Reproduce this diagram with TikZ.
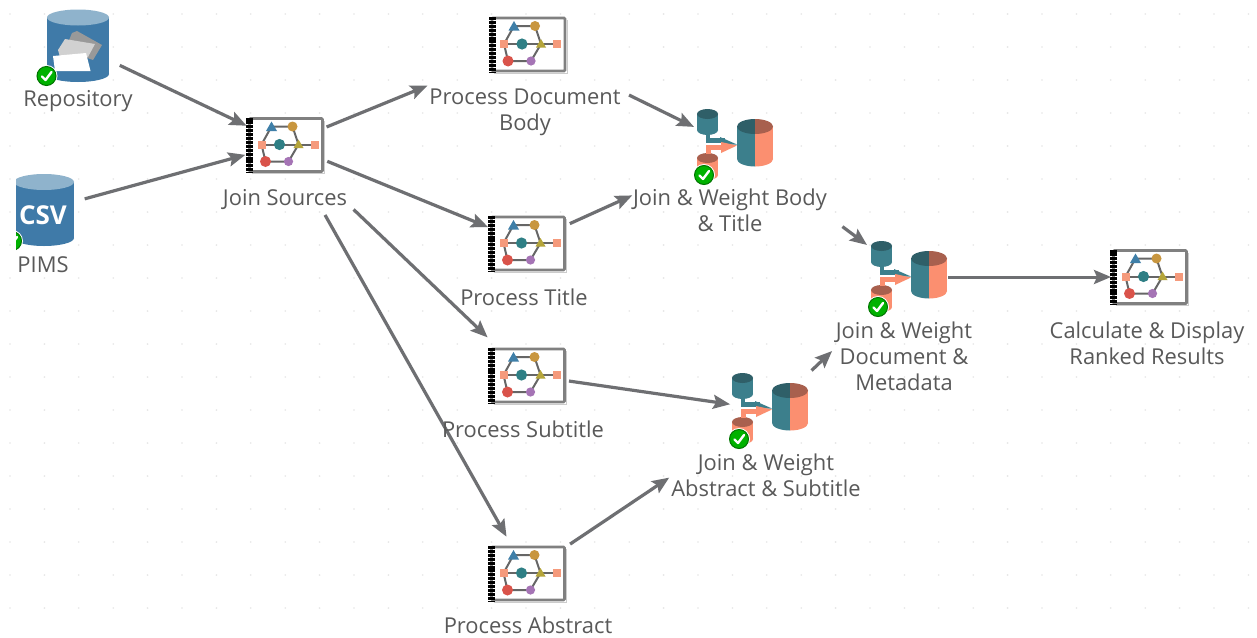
\documentclass[tikz,border=0pt]{standalone}
\usepackage{fontspec}
\setmainfont{Open Sans}
\usetikzlibrary{arrows.meta}
\definecolor{blu}{HTML}{3F7AA8}
\definecolor{blutop}{HTML}{8FB3CC}
\definecolor{tealc}{HTML}{3C7F8C}
\definecolor{tealtop}{HTML}{2F5F68}
\definecolor{salm}{HTML}{FB8F70}
\definecolor{salmtop}{HTML}{A8604E}
\definecolor{conncol}{HTML}{6E6F72}
\definecolor{labcol}{HTML}{595959}
\definecolor{gridc}{HTML}{E6E6E6}
\definecolor{pblue}{HTML}{3F7FA8}
\definecolor{porange}{HTML}{C8963F}
\definecolor{psq}{HTML}{F59A7C}
\definecolor{pteal}{HTML}{2F7F85}
\definecolor{polive}{HTML}{B5A53A}
\definecolor{pred}{HTML}{D9534A}
\definecolor{ppurple}{HTML}{A574B5}
\newcommand{\cylfill}[7]{% cx top bot rx ry body topcolour
  \fill[#6] (#1-#4,#2) rectangle (#1+#4,#3);
  \fill[#6] (#1,#3) ellipse [x radius=#4, y radius=#5];
  \fill[#7] (#1,#2) ellipse [x radius=#4, y radius=#5];}
\newcommand{\badge}[2]{%
  \fill[white] (#1,#2) circle [radius=11];
  \fill[draw=green!45!black,line width=1,fill=green!70!black] (#1,#2) circle [radius=9.5];
  \draw[white,line width=2.4,line cap=round,line join=round] (#1-4.5,#2+0.5) -- (#1-1,#2+4) -- (#1+5,#2-4);}
\tikzset{
  x=1pt,y=-1pt,
  conn/.style={draw=conncol,line width=3.2pt,-{Stealth[length=17pt,width=14pt,inset=3pt]}},
  lab/.style={text=labcol,font=\fontsize{21.9}{26}\selectfont,align=center,inner sep=0pt},
  anchorpt/.style={inner sep=0pt,minimum size=0pt},
  wire/.style={draw=black!60,line width=2pt},
  pics/procicon/.style={code={
    \draw[draw=black!50,fill=white,line width=2.8pt,rounded corners=1pt] (-36,-26) rectangle (37,27);
    \draw[black!20,line width=1pt] (-34,29) -- (39,29) -- (39,-24);
    \draw[black,line width=7pt,dash pattern=on 3pt off 0.9pt] (-36,-27) -- (-36,28);
    \draw[wire] (-24,0) -- (-14,-18) -- (7,-18) -- (13,0) -- (3,17) -- (-20,17) -- cycle;
    \draw[wire] (-24,0) -- (29,0);
    \fill[pblue] (-19.5,-13.5) -- (-14,-23) -- (-8.5,-13.5) -- cycle;
    \fill[porange] (7,-18) circle [radius=5];
    \fill[psq] (-28,-4) rectangle (-20,4);
    \fill[pteal] (-6,0) circle [radius=5.6];
    \fill[polive] (13,-5) -- (18,3.5) -- (8,3.5) -- cycle;
    \fill[psq] (25,-4) rectangle (33,4);
    \fill[pred] (-20,17) circle [radius=5.5];
    \fill[ppurple] (3,17) circle [radius=4.6];
  }},
  pics/joinicon/.style={code={
    % small lower cylinder
    \cylfill{-29.5}{10}{27}{10.5}{5}{salm}{salmtop}
    % small upper cylinder
    \cylfill{-29.5}{-34}{-18}{10.5}{5}{tealc}{tealtop}
    % arrows
    \draw[tealc,line width=4.5pt] (-29,-14) -- (-29,-7.5) -- (-12,-7.5);
    \fill[tealc] (-17,-11) -- (0,-3.5) -- (-17,-3) -- cycle;
    \draw[white,line width=1.5pt] (-33,-4) -- (-16,-4);
    \draw[salm,line width=5pt] (-29,6) -- (-29,-1) -- (-12,-1);
    \fill[salm] (-16,-6) -- (0,-2.5) -- (-16,5) -- cycle;
    % big cylinder
    \begin{scope}
      \clip (-5,-40) rectangle (18,30);
      \cylfill{18}{-21.5}{11}{18}{7.5}{tealc}{tealtop}
    \end{scope}
    \begin{scope}
      \clip (18,-40) rectangle (42,30);
      \cylfill{18}{-21.5}{11}{18}{7.5}{salm}{salmtop}
    \end{scope}
    \badge{-33}{27}
  }},
}
\begin{document}
\begin{tikzpicture}
\useasboundingbox (0,0) rectangle (1257,637);
\fill[white] (0,0) rectangle (1257,637);
% grid dots
\foreach \i in {0,...,36}{\foreach \j in {0,...,18}{
  \fill[gridc] (10+34.4*\i,14+33*\j) circle [radius=0.9];}}
% icon anchors
\node[anchorpt] (rep) at (77,45) {};
\node[anchorpt] (pims) at (44,210) {};
\node[anchorpt] (join) at (285,144) {};
\node[anchorpt] (body) at (527,45) {};
\node[anchorpt] (title) at (527,243) {};
\node[anchorpt] (sub) at (527,375) {};
\node[anchorpt] (abs) at (527,573) {};
\node[anchorpt] (jwbt) at (737,148) {};
\node[anchorpt] (jwdm) at (910,277) {};
\node[anchorpt] (jwas) at (770,410) {};
\node[anchorpt] (calc) at (1149,277) {};
% Repository cylinder
\cylfill{78}{17.5}{74}{31}{8}{blu}{blutop}
\fill[black!40] (72,33) -- (77,31) -- (102,45) -- (93,60) -- (65,50) -- cycle;
\fill[black!18] (58,50) -- (65,39) -- (95,44) -- (88,57) -- (60,57) -- cycle;
\fill[white] (53,56) -- (86,53) -- (90.5,71) -- (55,71) -- cycle;
\badge{46.5}{76}
% PIMS cylinder (cut by the left edge of the canvas)
\begin{scope}
  \clip (16,160) rectangle (90,260);
  \cylfill{44}{182}{238}{30}{8}{blu}{blutop}
  \badge{12}{241}
\end{scope}
\node[text=white,font=\fontsize{26}{26}\bfseries\selectfont,inner sep=0pt] (csv) at (43,215) {CSV};
% process icons
\pic at (285.5,144.5) {procicon};
\pic at (528,44) {procicon};
\pic at (527.5,243) {procicon};
\pic at (527.5,375) {procicon};
\pic at (527.5,573) {procicon};
\pic at (1149.5,276.5) {procicon};
% join icons
\pic at (737,148) {joinicon};
\pic at (911,280) {joinicon};
\pic at (772,412) {joinicon};
% connectors
\draw[conn,shorten <=47.4pt,shorten >=42.5pt] (rep.center) -- (join.center);
\draw[conn,shorten <=42.2pt,shorten >=41.1pt] (pims.center) -- (join.center);
\draw[conn,shorten <=44.9pt,shorten >=107.5pt] (join.center) -- (body.center);
\draw[conn,shorten <=45.7pt,shorten >=42pt] (join.center) -- (title.center);
\draw[conn,shorten <=94.8pt,shorten >=54.5pt] (join.center) -- (sub.center);
\draw[conn,shorten <=81.5pt,shorten >=41.7pt] (join.center) -- (abs.center);
\draw[conn,shorten <=113.6pt,shorten >=47.9pt] (body.center) -- (jwbt.center);
\draw[conn,shorten <=47pt,shorten >=115pt] (title.center) -- (jwbt.center);
\draw[conn,shorten <=131.5pt,shorten >=53.6pt] (jwbt.center) -- (jwdm.center);
\draw[conn,shorten <=42.4pt,shorten >=40.3pt] (sub.center) -- (jwas.center);
\draw[conn,shorten <=51.9pt,shorten >=121.4pt] (abs.center) -- (jwas.center);
\draw[conn,shorten <=57.3pt,shorten >=107.5pt] (jwas.center) -- (jwdm.center);
\draw[conn,line width=3pt,shorten <=38pt,shorten >=38pt] (jwdm.center) -- (calc.center);
% labels
\node[lab] (l1) at (78,101) {Repository};
\node[lab] (l2) at (43,265) {PIMS};
\node[lab] (l3) at (285,200) {Join Sources};
\node[lab] (l4) at (525,112) {Process Document\\Body};
\node[lab] (l5) at (524,297) {Process Title};
\node[lab] (l6) at (523,429) {Process Subtitle};
\node[lab] (l7) at (528,625) {Process Abstract};
\node[lab] (l8) at (730,210.5) {Join \& Weight Body\\\& Title};
\node[lab] (l9) at (904,356) {Join \& Weight\\Document \&\\Metadata};
\node[lab] (l10) at (766,475) {Join \& Weight\\Abstract \& Subtitle};
\node[lab] (l11) at (1147,343.5) {Calculate \& Display\\Ranked Results};
\end{tikzpicture}
\end{document}
